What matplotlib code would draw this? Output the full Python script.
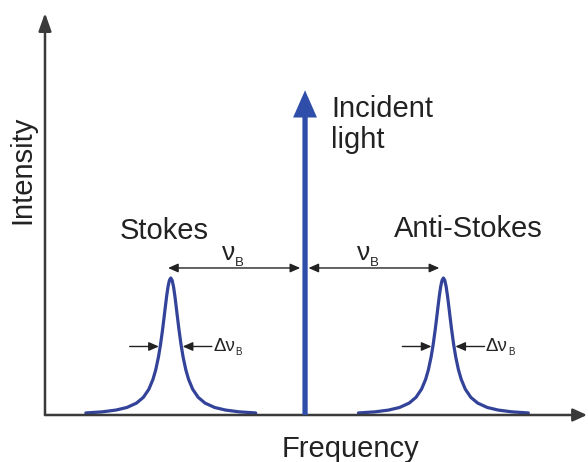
import matplotlib
matplotlib.use("Agg")
import matplotlib.pyplot as plt
import numpy as np

plt.rcParams['font.family'] = ['Liberation Sans', 'DejaVu Sans']

# frequency in units of the Brillouin shift, incident line at 0
incident_pos = 0.0
incident_height = 2.37
stokes_center = -0.98
antistokes_center = 1.01

# one half of the peak profile (offset, intensity)
profile_offset = [0, 0.01, 0.02, 0.03, 0.04, 0.05, 0.06, 0.075, 0.09, 0.11,
                  0.13, 0.16, 0.2, 0.25, 0.32, 0.4, 0.5, 0.62]
profile_level = [1.0, 0.983, 0.937, 0.868, 0.787, 0.703, 0.622, 0.513, 0.423,
                 0.329, 0.26, 0.188, 0.129, 0.087, 0.055, 0.036, 0.023, 0.015]

half_width = 0.077
shift_arrow_y = 1.073

txt_color = '#222222'
axis_color = '#3a3a3a'
peak_color = '#34439a'
incident_color = '#2f4eaa'

fig = plt.figure(figsize=(5.88, 4.62), dpi=100)
ax = fig.add_axes([45/588, 47/462, 542/588, 402/462])
ax.set_xlim(-1.898, 2.058)
ax.set_ylim(0, 2.934)
ax.axis('off')


def sub_label(x, y, main, sub, size, subsize, drop):
    # main symbol followed by a small subscript
    t = ax.text(x, y, main, fontsize=size, color=txt_color, ha='left', va='baseline')
    fig.canvas.draw()
    bb = t.get_window_extent().transformed(ax.transData.inverted())
    ax.text(bb.x1, y - drop, sub, fontsize=subsize, color=txt_color,
            ha='left', va='baseline')


# axes with arrow heads
ax.annotate('', xy=(0, 1), xytext=(0, 0), xycoords='axes fraction',
            arrowprops=dict(arrowstyle='-|>,head_length=0.9,head_width=0.32',
                            mutation_scale=12, lw=1.8, color=axis_color,
                            shrinkA=0, shrinkB=0))
ax.annotate('', xy=(1, 0), xytext=(0, 0), xycoords='axes fraction',
            arrowprops=dict(arrowstyle='-|>,head_length=0.7,head_width=0.32',
                            mutation_scale=12, lw=1.8, color=axis_color,
                            shrinkA=0, shrinkB=0))

# Brillouin peaks
off = np.array(profile_offset)
lev = np.array(profile_level)
x_half = np.concatenate([-off[::-1], off[1:]])
y_half = np.concatenate([lev[::-1], lev[1:]])
for c in (stokes_center, antistokes_center):
    ax.plot(c + x_half, y_half, color=peak_color, lw=2.3, solid_capstyle='round',
            clip_on=False)

# incident light
ax.annotate('', xy=(incident_pos, incident_height), xytext=(incident_pos, 0),
            arrowprops=dict(arrowstyle='simple,head_length=0.98,head_width=0.86,tail_width=0.19',
                            mutation_scale=20, lw=0, fc=incident_color, ec='none',
                            shrinkA=0, shrinkB=0))

# shift arrows
small = dict(arrowstyle='-|>,head_length=0.5,head_width=0.22', mutation_scale=12,
             lw=1.0, color=txt_color, shrinkA=0, shrinkB=0)
ax.annotate('', xy=(stokes_center - 0.02, shift_arrow_y), xytext=(-0.1, shift_arrow_y),
            arrowprops=small)
ax.annotate('', xy=(-0.035, shift_arrow_y), xytext=(-0.1, shift_arrow_y),
            arrowprops=small)
ax.annotate('', xy=(0.025, shift_arrow_y), xytext=(0.1, shift_arrow_y),
            arrowprops=small)
ax.annotate('', xy=(antistokes_center - 0.03, shift_arrow_y), xytext=(0.1, shift_arrow_y),
            arrowprops=small)

# linewidth arrows
for c in (stokes_center, antistokes_center):
    ax.annotate('', xy=(c - half_width - 0.01, 0.5), xytext=(c - 0.3, 0.5),
                arrowprops=small)
    ax.annotate('', xy=(c + half_width + 0.01, 0.5), xytext=(c + 0.3, 0.5),
                arrowprops=small)
    sub_label(c + 0.31, 0.465, 'Δν', 'B', 13.5, 7, 0.03)

sub_label(-0.606, 1.131, 'ν', 'B', 19, 9.5, 0.04)
sub_label(0.38, 1.131, 'ν', 'B', 19, 9.5, 0.04)

ax.text(-1.03, 1.285, 'Stokes', fontsize=21, color=txt_color, ha='center', va='baseline')
ax.text(1.19, 1.30, 'Anti-Stokes', fontsize=21, color=txt_color, ha='center', va='baseline')
ax.text(0.19, 2.175, 'Incident', fontsize=21, color=txt_color, ha='left', va='baseline')
ax.text(0.19, 1.949, 'light', fontsize=21, color=txt_color, ha='left', va='baseline')

ax.text(0.33, -0.307, 'Frequency', fontsize=21, color=txt_color, ha='center', va='baseline')
ax.text(-2.06, 1.79, 'Intensity', fontsize=21, color=txt_color, ha='center', va='center',
        rotation=90)

fig.savefig('out.png', dpi=100, facecolor='white')
